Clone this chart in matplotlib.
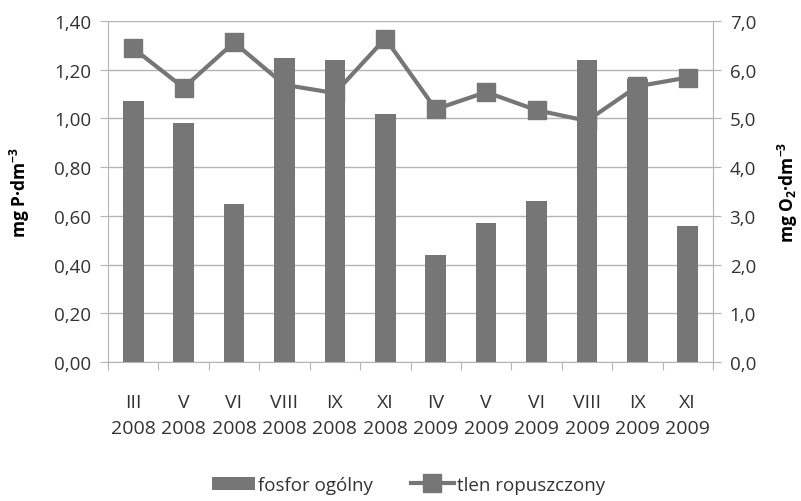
import numpy as np
import matplotlib.pyplot as plt

plt.rcParams['font.family'] = ['Open Sans', 'DejaVu Sans']

# dane
miesiace = ['III\n2008', 'V\n2008', 'VI\n2008', 'VIII\n2008', 'IX\n2008', 'XI\n2008',
            'IV\n2009', 'V\n2009', 'VI\n2009', 'VIII\n2009', 'IX\n2009', 'XI\n2009']
fosfor = [1.07, 0.98, 0.65, 1.25, 1.24, 1.02, 0.44, 0.57, 0.66, 1.24, 1.16, 0.56]
tlen = [6.44, 5.63, 6.56, 5.69, 5.52, 6.64, 5.19, 5.54, 5.17, 4.95, 5.66, 5.84]

szary = '#767676'
siatka = '#b4b4b4'
tekst = '#333333'

fig = plt.figure(figsize=(8.01, 5.02), dpi=100)
ax = fig.add_axes([108 / 801, 1 - 363 / 502, (713 - 108) / 801, (363 - 22) / 502])
ax2 = ax.twinx()

x = np.arange(len(miesiace))
ax.bar(x, fosfor, width=0.41, color=szary, label='fosfor ogólny', zorder=2)
ax2.plot(x, tlen, color=szary, lw=3, marker='s', ms=13, label='tlen ropuszczony', zorder=3)

ax.set_xlim(-0.5, len(miesiace) - 0.5)
ax.set_ylim(0, 1.4)
ax2.set_ylim(0, 7)
yt1 = np.arange(0, 1.41, 0.2)
ax.set_yticks(yt1)
ax.set_yticklabels([('%.2f' % v).replace('.', ',') for v in yt1])
yt2 = np.arange(0, 7.1, 1)
ax2.set_yticks(yt2)
ax2.set_yticklabels([('%.1f' % v).replace('.', ',') for v in yt2])

ax.yaxis.grid(True, color=siatka, lw=1, zorder=0)
ax.set_axisbelow(True)

# ticki osi x na granicach kategorii
ax.set_xticks(np.arange(-0.5, len(miesiace), 1))
ax.set_xticklabels([])
ax.set_xticks(x, minor=True)
ax.set_xticklabels(miesiace, minor=True, fontsize=14, color=tekst, linespacing=1.6)
ax.tick_params(axis='x', which='major', length=6, color=siatka)
ax.tick_params(axis='x', which='minor', length=0, pad=22)

for a in (ax, ax2):
    for s in a.spines.values():
        s.set_visible(False)
ax.spines['left'].set_visible(True)
ax.spines['left'].set_color(siatka)
ax.spines['bottom'].set_visible(True)
ax.spines['bottom'].set_color(siatka)
ax2.spines['right'].set_visible(True)
ax2.spines['right'].set_color(siatka)

ax.tick_params(axis='y', length=6, color=siatka, labelsize=13.5, labelcolor=tekst, pad=6)
ax2.tick_params(axis='y', length=6, color=siatka, labelsize=13.5, labelcolor=tekst, pad=6)

ax.set_ylabel('mg P·dm$^{\\mathregular{-3}}$', fontsize=12.5, fontweight='bold', labelpad=16)
ax2.set_ylabel('mg O$_{\\mathregular{2}}$·dm$^{\\mathregular{-3}}$', fontsize=12.5,
               fontweight='bold', labelpad=14)

h1, l1 = ax.get_legend_handles_labels()
h2, l2 = ax2.get_legend_handles_labels()
fig.legend(h1 + h2, l1 + l2, loc='center', bbox_to_anchor=(0.51, 0.032), ncol=2,
           frameon=False, fontsize=13.5, handlelength=2.3, handletextpad=0.15,
           columnspacing=2.0, labelcolor=tekst)

fig.savefig('out.png', dpi=100)
